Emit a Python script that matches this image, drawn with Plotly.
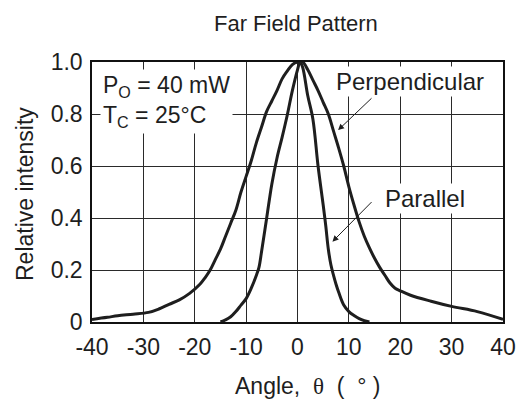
import plotly.graph_objects as go

# Perpendicular (wide) curve
perp_x = [-40, -37, -35, -32, -29, -27, -25, -23, -21, -19, -18, -17, -16, -15, -14, -13, -12, -11,
          -10, -9, -8, -7, -6, -5, -4, -3, -2, -1, 0, 1, 2, 3, 4, 5, 6, 7, 8, 9, 10, 11, 12, 13,
          14, 15, 16, 17, 18, 19, 20, 22, 26, 30, 35, 40]
perp_y = [0.01, 0.018, 0.024, 0.03, 0.037, 0.05, 0.068, 0.085, 0.11, 0.145, 0.17, 0.2, 0.24, 0.28,
          0.33, 0.38, 0.43, 0.5, 0.56, 0.62, 0.69, 0.75, 0.81, 0.85, 0.89, 0.935, 0.965, 0.99, 1.0,
          1.0, 0.97, 0.93, 0.89, 0.845, 0.8, 0.735, 0.67, 0.6, 0.52, 0.45, 0.385, 0.33, 0.285,
          0.245, 0.21, 0.18, 0.15, 0.13, 0.12, 0.103, 0.08, 0.06, 0.04, 0.01]

# Parallel (narrow) curve
par_x = [-15, -14, -13, -12, -11, -10, -9, -8, -7.5, -7, -6, -5, -4, -3, -2, -1, 0, 0.5, 1, 2, 3,
         4, 5, 5.5, 6, 6.5, 7, 7.5, 8, 9, 10, 11, 12, 13, 14]
par_y = [0.0, 0.008, 0.02, 0.04, 0.065, 0.09, 0.13, 0.18, 0.21, 0.27, 0.4, 0.53, 0.63, 0.71, 0.795,
         0.89, 0.97, 1.0, 0.98, 0.87, 0.78, 0.6, 0.45, 0.37, 0.28, 0.22, 0.18, 0.145, 0.115, 0.065,
         0.04, 0.025, 0.013, 0.005, 0.0]

x_ticks = [-40, -30, -20, -10, 0, 10, 20, 30, 40]
x_labels = ["-40", "-30", "-20", "-10", "0", "10", "20", "30", "40"]
y_ticks = [0, 0.2, 0.4, 0.6, 0.8, 1.0]
y_labels = ["0", "0.2", "0.4", "0.6", "0.8", "1.0"]

FONT = "Liberation Sans, Arial, sans-serif"
INK = "#1e1e1e"

fig = go.Figure()
fig.add_trace(go.Scatter(x=perp_x, y=perp_y, mode="lines", line=dict(color=INK, width=3),
                         line_shape="spline", showlegend=False))
fig.add_trace(go.Scatter(x=par_x, y=par_y, mode="lines", line=dict(color=INK, width=3),
                         line_shape="spline", showlegend=False))

ann = []
ann.append(dict(text="Far Field Pattern", xref="paper", yref="paper", x=(296 - 92) / 411,
                y=(322 - 23) / 260, showarrow=False, font=dict(size=22, color=INK, family=FONT),
                xanchor="center", yanchor="middle"))
ann.append(dict(text="Relative intensity", xref="paper", yref="paper", x=(25 - 92) / 411,
                y=(322 - 194) / 260, showarrow=False, textangle=-90,
                font=dict(size=23, color=INK, family=FONT), xanchor="center", yanchor="middle"))
ann.append(dict(text="Angle,\u00a0 <span style='font-family:Liberation Serif'>θ</span>\u00a0 (\u00a0 °\u00a0)",
                xref="paper", yref="paper", x=(308 - 92) / 411, y=(322 - 386) / 260,
                showarrow=False, font=dict(size=23, color=INK, family=FONT),
                xanchor="center", yanchor="middle"))
ann.append(dict(text="P<sub>O</sub> = 40 mW<br>T<sub>C</sub> = 25°C", xref="x", yref="y",
                x=-38.4, y=0.85, showarrow=False, align="left", xanchor="left", yanchor="middle",
                bgcolor="white", borderpad=2, font=dict(size=23, color=INK, family=FONT)))
ann.append(dict(text="Perpendicular", xref="x", yref="y", x=21.8, y=0.926, showarrow=False,
                bgcolor="white", borderpad=1, font=dict(size=24, color=INK, family=FONT)))
ann.append(dict(text="Parallel", xref="x", yref="y", x=24.9, y=0.475, showarrow=False,
                bgcolor="white", borderpad=1, font=dict(size=24, color=INK, family=FONT)))
ann.append(dict(text="", xref="x", yref="y", axref="x", ayref="y", x=7.9, y=0.738, ax=14.7,
                ay=0.866, showarrow=True, arrowhead=2, arrowsize=1.2, arrowwidth=1,
                arrowcolor=INK, standoff=0))
ann.append(dict(text="", xref="x", yref="y", axref="x", ayref="y", x=6.8, y=0.309, ax=14.7,
                ay=0.467, showarrow=True, arrowhead=2, arrowsize=1.2, arrowwidth=1,
                arrowcolor=INK, standoff=0))

fig.update_layout(
    width=529, height=401,
    margin=dict(l=92, r=26, t=62, b=79),
    paper_bgcolor="white", plot_bgcolor="white",
    font=dict(family=FONT, color=INK),
    annotations=ann,
    xaxis=dict(range=[-40, 40], tickmode="array", tickvals=x_ticks, ticktext=x_labels,
               showgrid=True, gridcolor="#2a2a2a", gridwidth=1, griddash="solid",
               showline=True, linecolor="#111", linewidth=1.5,
               mirror=True, ticks="", zeroline=False, tickfont=dict(size=23, color=INK),
               ticklabelstandoff=4),
    yaxis=dict(range=[0, 1.0], tickmode="array", tickvals=y_ticks, ticktext=y_labels,
               showgrid=True, gridcolor="#2a2a2a", gridwidth=1, griddash="solid",
               showline=True, linecolor="#111", linewidth=1.5,
               mirror=True, ticks="", zeroline=False, tickfont=dict(size=23, color=INK),
               ticklabelstandoff=3),
)

fig.write_html("out.html", config={"displayModeBar": False},
               post_script="document.body.style.margin='0';document.body.style.padding='0';")
